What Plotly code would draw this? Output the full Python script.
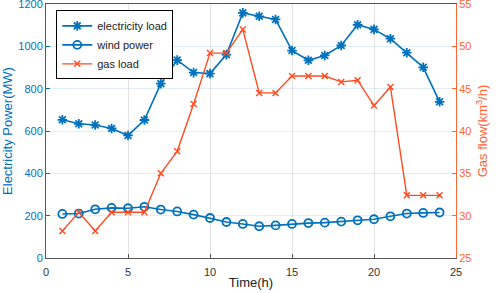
import plotly.graph_objects as go

hours = list(range(1, 25))
electricity_load = [653, 634, 628, 612, 579, 652, 824, 935, 876, 871, 961, 1158,
                    1142, 1127, 980, 934, 957, 1004, 1102, 1080, 1036, 970, 901, 738]
wind_power = [208, 210, 230, 237, 235, 242, 229, 220, 205, 189, 170, 161,
              150, 154, 161, 165, 167, 172, 178, 183, 197, 210, 213, 215]
gas_load = [28.2, 30.4, 28.2, 30.4, 30.4, 30.4, 35.0, 37.6, 43.2, 49.2, 49.2, 52.0,
            44.5, 44.5, 46.5, 46.5, 46.5, 45.8, 46.0, 43.0, 45.2, 32.4, 32.4, 32.4]

BLUE = "#0072BD"
ORANGE = "#FF4B1F"
ORANGE_AX = "#FF6633"
FONT = "Liberation Sans, Arial, sans-serif"

fig = go.Figure()
fig.add_trace(go.Scatter(x=hours, y=electricity_load, name="electricity load",
                         mode="lines+markers", line=dict(color=BLUE, width=1.6),
                         marker=dict(symbol="asterisk-open", size=8,
                                     line=dict(color=BLUE, width=1.8))))
fig.add_trace(go.Scatter(x=hours, y=wind_power, name="wind power",
                         mode="lines+markers", line=dict(color=BLUE, width=1.6),
                         marker=dict(symbol="circle-open", size=8,
                                     line=dict(color=BLUE, width=1.8))))
fig.add_trace(go.Scatter(x=hours, y=gas_load, name="gas load", yaxis="y2",
                         mode="lines+markers", line=dict(color=ORANGE, width=1.4),
                         marker=dict(symbol="x-thin-open", size=6,
                                     line=dict(color=ORANGE, width=1.4))))

fig.update_layout(
    width=498, height=293,
    margin=dict(l=46, r=42, t=4, b=35, autoexpand=False),
    paper_bgcolor="white", plot_bgcolor="white",
    font=dict(family=FONT, size=11),
    showlegend=True,
    legend=dict(x=0.025, y=0.975, xanchor="left", yanchor="top",
                bgcolor="white", bordercolor="black", borderwidth=1,
                font=dict(size=11, color="#222"), tracegroupgap=0,
                itemwidth=30),
    xaxis=dict(range=[0, 25], tickvals=[0, 5, 10, 15, 20, 25], automargin=False,
               showgrid=True, gridcolor="#E4E4E4", gridwidth=1,
               showline=True, linecolor="#555", linewidth=1, mirror=True,
               ticks="inside", ticklen=4, tickcolor="#555",
               ticklabeloverflow="allow", ticklabelstandoff=4,
               tickfont=dict(color="#333", size=11), zeroline=False,
               title=dict(text="Time(h)", font=dict(size=13, color="#222"), standoff=0)),
    yaxis=dict(range=[0, 1200], tickvals=[0, 200, 400, 600, 800, 1000, 1200], automargin=False,
               showgrid=True, gridcolor="rgba(0,114,189,0.12)", gridwidth=1,
               showline=True, linecolor=BLUE, linewidth=1,
               ticks="inside", ticklen=4, tickcolor=BLUE,
               ticklabeloverflow="allow",
               tickfont=dict(color=BLUE, size=11), zeroline=False,
               title=dict(text="Electricity Power(MW)", font=dict(size=13, color=BLUE), standoff=2)),
    yaxis2=dict(range=[25, 55], tickvals=[25, 30, 35, 40, 45, 50, 55], automargin=False,
                overlaying="y", side="right", showgrid=False,
                showline=True, linecolor=ORANGE_AX, linewidth=1,
                ticks="inside", ticklen=4, tickcolor=ORANGE_AX,
                ticklabeloverflow="allow",
                tickfont=dict(color=ORANGE_AX, size=11), zeroline=False,
                title=dict(text="Gas flow(km<sup>3</sup>/h)", font=dict(size=13, color=ORANGE_AX), standoff=7)),
)

fig.write_html("out.html", config={"displayModeBar": False},
               post_script="document.body.style.margin='0';document.body.style.overflow='hidden';")
